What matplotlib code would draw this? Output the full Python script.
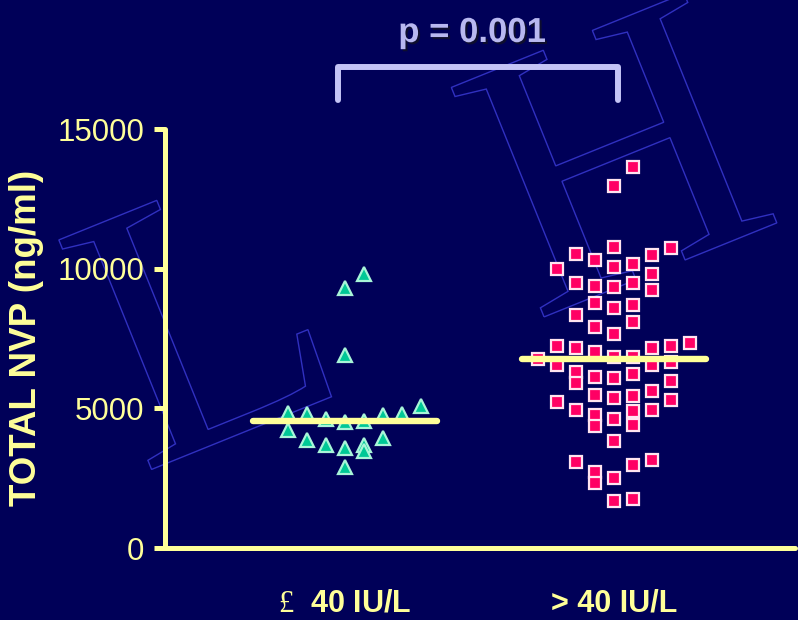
import numpy as np
import matplotlib
matplotlib.use("Agg")
import matplotlib.pyplot as plt
import matplotlib.patheffects as pe
from matplotlib.textpath import TextPath
from matplotlib.patches import PathPatch
from matplotlib.transforms import Affine2D
from matplotlib.font_manager import FontProperties

plt.rcParams['font.family'] = ['Liberation Sans', 'DejaVu Sans']
plt.rcParams['mathtext.fontset'] = 'custom'
plt.rcParams['mathtext.rm'] = 'Liberation Serif'

# total NVP per patient (ng/ml), with the dot-plot column each point sits in
low_alt_nvp = [9810, 9310, 6910, 5080, 4830, 4800, 4620, 4510, 4550, 4760,
               4800, 4220, 3870, 3690, 3580, 3690, 3470, 3940, 2900]
low_alt_col = [1, 0, 0, 4, -3, -2, -1, 0, 1, 2,
               3, -3, -2, -1, 0, 1, 1, 2, 0]

high_alt_nvp = [13640, 12960, 10530, 10310, 10780, 10170, 10490, 10740, 9990, 10060,
                9810, 9490, 9380, 9340, 9490, 9240, 8770, 8590, 8700, 8340,
                8090, 7910, 7660, 7230, 7160, 7020, 6840, 6840, 7160, 7230,
                7340, 6770, 6550, 6550, 6660, 6300, 5910, 6120, 6090, 6230,
                5980, 5480, 5370, 5440, 5620, 5300, 5230, 4940, 4760, 4370,
                4900, 4400, 4940, 4620, 3830, 3080, 2720, 2330, 2510, 2970,
                3150, 1680, 1750]
high_alt_col = [1, 0, -2, -1, 0, 1, 2, 3, -3, 0,
                2, -2, -1, 0, 1, 2, -1, 0, 1, -2,
                1, -1, 0, -3, -2, -1, 0, 1, 2, 3,
                4, -4, -3, 2, 3, -2, -2, -1, 0, 1,
                3, -1, 0, 1, 2, 3, -3, -2, -1, -1,
                1, 1, 2, 0, 0, -2, -1, -1, 0, 1,
                2, 0, 1]

group_labels = [r'$\mathrm{£}$  40 IU/L', '> 40 IU/L']
y_ticks = [0, 5000, 10000, 15000]
p_text = 'p = 0.001'

bg = '#000058'
yellow = '#FFFF99'
lavender = '#C4C4F6'

fig = plt.figure(figsize=(7.98, 6.2), dpi=100, facecolor=bg)
ax = fig.add_axes([165 / 798, 72 / 620, 630 / 798, 419 / 620])
ax.set_facecolor('none')

# faint serif letters behind the plot
serif = FontProperties(family='Liberation Serif')
for ch, ox, oy in [('L', 141.5, 146.5), ('H', 534, 299)]:
    tp = TextPath((0, 0), ch, size=378, prop=serif)
    glyph = PathPatch(tp, transform=Affine2D().rotate_deg(22).translate(ox, oy),
                      facecolor='none', edgecolor='#3030C0', lw=1.0, zorder=-1)
    fig.add_artist(glyph)

col_w = 0.0705

# group 1: triangles
x1 = 1 + col_w * np.array(low_alt_col)
ax.plot(x1, low_alt_nvp, linestyle='none', marker='^', markersize=10,
        markerfacecolor='#00C896', markeredgecolor='#A8F5D8', markeredgewidth=1.6,
        zorder=3, clip_on=False)

# group 2: squares
x2 = 2 + col_w * np.array(high_alt_col)
ax.plot(x2, high_alt_nvp, linestyle='none', marker='s', markersize=8.2,
        markerfacecolor='#FF0064', markeredgecolor='#FFE4F0', markeredgewidth=1.6,
        zorder=3, clip_on=False)

# median bars
for xc, vals in [(1, low_alt_nvp), (2, high_alt_nvp)]:
    med = np.median(vals)
    ax.plot([xc - 0.342, xc + 0.342], [med, med], color=yellow, lw=4.6,
            solid_capstyle='round', zorder=4)

# significance bracket
ax.plot([0.974, 0.974, 2.015, 2.015], [16040, 17220, 17220, 16040],
        color=lavender, lw=4.3, solid_capstyle='round', solid_joinstyle='round',
        clip_on=False)
ax.text(1.472, 18115, p_text, ha='center', va='baseline', fontsize=25,
        fontweight='bold', color='#B8B8F0', clip_on=False,
        path_effects=[pe.withSimplePatchShadow(offset=(1.5, -1.5),
                                               shadow_rgbFace='#10102a', alpha=0.9)])

ax.set_xlim(1 - 180 / 269, 2 + 181 / 269)
ax.set_ylim(0, 15000)

for side in ['top', 'right']:
    ax.spines[side].set_visible(False)
for side in ['left', 'bottom']:
    ax.spines[side].set_color(yellow)
    ax.spines[side].set_linewidth(3.6)
    ax.spines[side].set_capstyle('round')

ax.set_yticks(y_ticks)
ax.set_yticklabels([str(t) for t in y_ticks])
ax.tick_params(axis='y', colors=yellow, length=8, width=3.6, pad=7,
               labelsize=22.5, labelcolor=yellow)

ax.set_xticks([1, 2])
ax.set_xticklabels(group_labels, fontsize=22, fontweight='bold', color=yellow)
ax.tick_params(axis='x', length=0, pad=29)

fig.text(27 / 798, 1 - 338 / 620, 'TOTAL NVP (ng/ml)', rotation=90,
         ha='center', va='center', fontsize=26.5, fontweight='bold', color=yellow)

fig.savefig('out.png', dpi=100, facecolor=fig.get_facecolor())
